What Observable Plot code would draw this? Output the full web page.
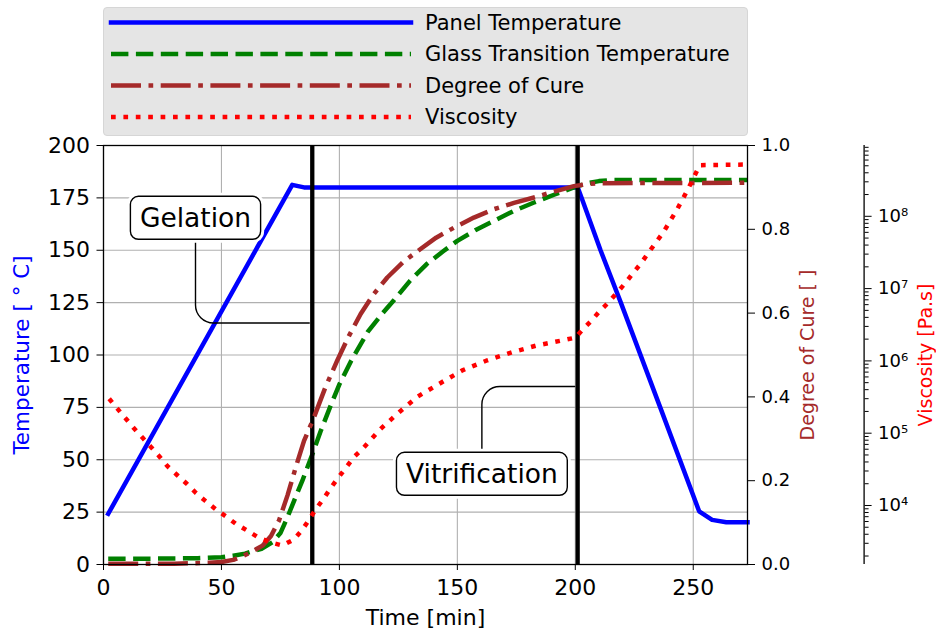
<!DOCTYPE html>
<html>
<head>
<meta charset="utf-8">
<script src="https://cdn.jsdelivr.net/npm/d3@7"></script>
<script src="https://cdn.jsdelivr.net/npm/@observablehq/plot@0.6"></script>
<style>
  body { margin: 0; background: #fff; font-family: "DejaVu Sans", sans-serif; }
  #wrap { position: relative; width: 936px; height: 633px; overflow: hidden; }
  #chart { position: absolute; left: 0; top: 130px; }
  #legend { position: absolute; left: 103px; top: 7px; width: 645px; height: 129px; box-sizing: border-box;
            background: #e5e5e5; border: 1px solid #d6d6d6; border-radius: 4px; }
</style>
</head>
<body>
<div id="wrap"><div id="chart"></div><div id="legend"></div></div>
<script>
// ---- cure cycle data ----
// panel temperature [°C] vs time [min]
const panelTime = [2, 80, 85, 201, 203, 210.7, 219.3, 236, 252.5, 258, 264, 273];
const panelTemp = [24.2, 181.2, 180, 180, 174, 150, 125, 75, 25.4, 21.3, 20.2, 20.2];

// glass transition temperature [°C]
const tgTime = [2, 20, 40, 50, 55, 60, 62, 67, 71.6, 75, 78, 81, 84.3, 88.5, 92, 96, 100, 105, 112, 118, 123, 130, 137, 144, 150, 158, 165.5, 174, 182.5, 191, 199.4, 205, 210, 215, 273];
const tgTemp = [2.7, 2.8, 3.0, 3.5, 4.2, 5.2, 5.9, 7.5, 10.6, 15, 22.6, 31, 40, 52.5, 63.5, 75, 86, 97.3, 111, 119.5, 126, 135.5, 143.4, 149.5, 154.5, 159.8, 164, 168.8, 172.8, 176.5, 180, 182, 183, 183.5, 183.5];

// degree of cure [-]
const cureTime = [2, 30, 45, 50, 55, 59, 63, 67.4, 71, 74.4, 78, 81.5, 85, 89.2, 94, 99.1, 104, 109, 114.5, 120.3, 127, 134.4, 141, 148.6, 157, 165.5, 174, 182.5, 191, 199.4, 205, 210, 273];
const cure = [0.002, 0.002, 0.004, 0.006, 0.011, 0.02, 0.031, 0.045, 0.068, 0.105, 0.165, 0.232, 0.295, 0.351, 0.422, 0.487, 0.545, 0.598, 0.645, 0.685, 0.722, 0.753, 0.78, 0.804, 0.828, 0.848, 0.863, 0.876, 0.89, 0.903, 0.908, 0.91, 0.911];

// viscosity [Pa.s]
const viscTime = [2.4, 5.8, 9.4, 12.9, 16.5, 20, 23.6, 27.1, 31.4, 35.3, 39.1, 43.3, 47.5, 51.8, 56, 60.9, 65.7, 70.6, 75.8, 80.8, 84, 87.1, 90, 93.2, 96.3, 99.4, 102.7, 106.2, 109.7, 117.5, 125.3, 133.1, 142.2, 152.1, 162.7, 173.3, 183.2, 193.8, 200.1, 203, 206.5, 210.4, 214.2, 217.8, 221.3, 224.6, 227.7, 231.2, 234.3, 237.3, 240.1, 242.9, 245.8, 248.1, 250.3, 252.8, 273];
const viscosity = [3.0e5, 2.2e5, 1.6e5, 1.17e5, 8.7e4, 6.5e4, 4.8e4, 3.5e4, 2.6e4, 2.0e4, 1.5e4, 1.15e4, 8.9e3, 7.1e3, 5.6e3, 4.5e3, 3.6e3, 3.1e3, 2.8e3, 3.4e3, 4.5e3, 6.3e3, 8.9e3, 1.23e4, 1.74e4, 2.4e4, 3.3e4, 4.7e4, 6.0e4, 1.15e5, 1.95e5, 3.2e5, 4.8e5, 7.4e5, 1.02e6, 1.32e6, 1.62e6, 1.9e6, 2.1e6, 2.7e6, 3.5e6, 4.9e6, 6.5e6, 8.9e6, 1.2e7, 1.66e7, 2.2e7, 3.2e7, 4.4e7, 6.0e7, 8.5e7, 1.2e8, 1.8e8, 2.5e8, 3.5e8, 5.1e8, 5.2e8];

// events marked with vertical lines and callouts
const eventLabels = ["Gelation", "Vitrification"];
const eventTimes = [88.5, 201];
const calloutTimes = [39, 160.4];     // where the callout text sits
const calloutTemps = [165, 42.8];
const pointerTemps = [115.3, 85];     // height at which the pointer meets the line

// axis ticks
const timeTicks = [0, 50, 100, 150, 200, 250];
const tempTicks = [0, 25, 50, 75, 100, 125, 150, 175, 200];
const cureTicks = [0, 0.2, 0.4, 0.6, 0.8, 1.0];
const viscMajorTicks = [1e4, 1e5, 1e6, 1e7, 1e8];

const seriesNames = ["Panel Temperature", "Glass Transition Temperature", "Degree of Cure", "Viscosity"];

// ---- styling ----
const timeMax = 273;
const tempDomain = [0, 200];
const colors = {"Panel Temperature": "#0000ff", "Glass Transition Temperature": "#008000", "Degree of Cure": "#a52a2a", "Viscosity": "#ff0000"};
const dashes = {"Panel Temperature": null, "Glass Transition Temperature": "17.4,7.5", "Degree of Cure": "30,7.5,4.7,7.5", "Viscosity": "4.7,7.7"};
const lineWidth = 4.5;

// twin axes share the temperature scale: cure 0..1 and log viscosity are mapped onto 0..200
const cureToTemp = c => c / 1.0 * (tempDomain[1] - tempDomain[0]) + tempDomain[0];
const logVisc = viscosity.map(Math.log10);
const [lvLo, lvHi] = d3.extent(logVisc);
const lvPad = 0.05 * (lvHi - lvLo);
const viscLin = d3.scaleLinear([lvLo - lvPad, lvHi + lvPad], tempDomain);
const viscToTemp = v => viscLin(Math.log10(v));

const viscMinorTicks = [];
for (let e = Math.floor(lvLo - lvPad); e <= Math.ceil(lvHi + lvPad); e++)
  for (let k = 2; k <= 9; k++) {
    const v = k * 10 ** e, l = Math.log10(v);
    if (l >= lvLo - lvPad && l <= lvHi + lvPad) viscMinorTicks.push(v);
  }

const sup = {"0":"⁰","1":"¹","2":"²","3":"³","4":"⁴","5":"⁵","6":"⁶","7":"⁷","8":"⁸","9":"⁹","-":"⁻"};
const powerLabel = v => "10" + String(Math.round(Math.log10(v))).split("").map(c => sup[c]).join("");

// tables for the marks
const panelRows = panelTime.map((t, i) => ({t, v: panelTemp[i]}));
const tgRows = tgTime.map((t, i) => ({t, v: tgTemp[i]}));
const cureRows = cureTime.map((t, i) => ({t, v: cureToTemp(cure[i])}));
const viscRows = viscTime.map((t, i) => ({t, v: viscToTemp(viscosity[i])}));
const events = eventLabels.map((label, i) => ({label, time: eventTimes[i], tx: calloutTimes[i], ty: calloutTemps[i], py: pointerTemps[i]}));
const pointerRows = events.flatMap(e => [
  {label: e.label, t: e.tx, v: e.ty},
  {label: e.label, t: e.tx, v: e.py},
  {label: e.label, t: e.time, v: e.py}
]);

// elbow connector with a rounded corner; the end stops a few pixels short of its target
function roundedElbow(context) {
  let pts = [];
  return {
    areaStart() {}, areaEnd() {},
    lineStart() { pts = []; },
    point(x, y) { pts.push([+x, +y]); },
    lineEnd() {
      const n = pts.length;
      if (n < 2) return;
      const [ax, ay] = pts[n - 2], [bx, by] = pts[n - 1];
      const len = Math.hypot(bx - ax, by - ay) || 1;
      const end = [bx - (bx - ax) / len * 3, by - (by - ay) / len * 3];
      context.moveTo(pts[0][0], pts[0][1]);
      for (let i = 1; i < n - 1; i++) {
        const nx = i + 1 === n - 1 ? end : pts[i + 1];
        context.arcTo(pts[i][0], pts[i][1], nx[0], nx[1], 18);
      }
      context.lineTo(end[0], end[1]);
    }
  };
}

const seriesLine = (rows, name) => Plot.line(rows, {
  x: "t", y: "v", stroke: colors[name], strokeWidth: lineWidth,
  strokeDasharray: dashes[name], strokeLinecap: dashes[name] ? "butt" : "square", strokeLinejoin: "round"
});

const gridStyle = {stroke: "#b0b0b0", strokeOpacity: 1, strokeWidth: 1.1};

const chart = Plot.plot({
  width: 936, height: 503,
  marginLeft: 103, marginRight: 189, marginTop: 15, marginBottom: 69,
  x: {domain: [0, timeMax]},
  y: {domain: tempDomain},
  style: {fontFamily: "'DejaVu Sans', sans-serif", fontSize: "21px", background: "white", overflow: "visible"},
  marks: [
    Plot.gridX({ticks: timeTicks, ...gridStyle}),
    Plot.gridY({ticks: tempTicks, ...gridStyle}),
    seriesLine(panelRows, "Panel Temperature"),
    seriesLine(tgRows, "Glass Transition Temperature"),
    Plot.ruleX(events, {x: "time", stroke: "black", strokeWidth: 4.3}),
    Plot.line(pointerRows, {x: "t", y: "v", z: "label", curve: roundedElbow, stroke: "black", strokeWidth: 1.4}),
    Plot.text(events, {x: "tx", y: "ty", text: "label", fontSize: 26.5, fill: "black", className: "callout"}),
    seriesLine(cureRows, "Degree of Cure"),
    seriesLine(viscRows, "Viscosity"),
    Plot.frame({stroke: "black", strokeWidth: 1.3}),
    // viscosity spine, offset to the right of the plot
    Plot.ruleX([timeMax], {dx: 116.6, stroke: "black", strokeWidth: 1.3}),
    Plot.axisX({ticks: timeTicks, tickSize: 6, tickPadding: 9, fontSize: 22, label: null}),
    Plot.axisY({ticks: tempTicks, tickSize: 6.5, tickPadding: 7, fontSize: 22, label: null}),
    Plot.axisY({anchor: "right", ticks: cureTicks.map(cureToTemp), tickSize: 7, tickPadding: 7, fontSize: 18, label: null,
      tickFormat: d => cureTicks[cureTicks.map(cureToTemp).indexOf(d)].toFixed(1)}),
    Plot.axisY({anchor: "right", dx: 116.6, ticks: viscMajorTicks.map(viscToTemp), tickSize: 7, tickPadding: 7, fontSize: 18, label: null,
      tickFormat: d => powerLabel(viscMajorTicks[viscMajorTicks.map(viscToTemp).indexOf(d)])}),
    Plot.axisY({anchor: "right", dx: 116.6, ticks: viscMinorTicks.map(viscToTemp), tickSize: 4, tickFormat: () => "", label: null}),
    // axis titles
    Plot.text(["Time [min]"], {frameAnchor: "bottom", dy: 60, text: d => d, fontSize: 22, fill: "black"}),
    Plot.text(["Temperature [ ° C]"], {frameAnchor: "left", dx: -81, rotate: -90, textAnchor: "middle", text: d => d, fontSize: 21.5, fill: colors["Panel Temperature"]}),
    Plot.text(["Degree of Cure [ ]"], {frameAnchor: "right", dx: 60, rotate: -90, textAnchor: "middle", text: d => d, fontSize: 19, fill: colors["Degree of Cure"]}),
    Plot.text(["Viscosity [Pa.s]"], {frameAnchor: "right", dx: 178, rotate: -90, textAnchor: "middle", text: d => d, fontSize: 19, fill: colors["Viscosity"]})
  ]
});
document.getElementById("chart").append(chart);

// rounded white boxes behind the callout texts
const NS = "http://www.w3.org/2000/svg";
chart.querySelectorAll("g.callout text").forEach(t => {
  const bb = t.getBBox();
  const tr = t.getAttribute("transform");
  const padX = 9.5, h = 43, cy = bb.y + bb.height / 2;
  const halo = document.createElementNS(NS, "rect");
  const box = document.createElementNS(NS, "rect");
  for (const [r, grow] of [[halo, 3.5], [box, 0]]) {
    r.setAttribute("x", bb.x - padX - grow);
    r.setAttribute("y", cy - h / 2 - grow);
    r.setAttribute("width", bb.width + 2 * (padX + grow));
    r.setAttribute("height", h + 2 * grow);
    r.setAttribute("rx", 8 + grow);
    if (tr) r.setAttribute("transform", tr);
    r.setAttribute("fill", "white");
    r.setAttribute("stroke", r === box ? "black" : "none");
    r.setAttribute("stroke-width", 1.4);
    t.parentNode.insertBefore(r, t);
  }
});

// legend
const leg = d3.select("#legend").append("svg").attr("width", 643).attr("height", 127)
  .style("position", "absolute").style("left", 0).style("top", 0);
seriesNames.forEach((name, i) => {
  const y = 14.5 + i * 31.5;
  leg.append("line").attr("x1", 7).attr("x2", 307).attr("y1", y).attr("y2", y)
    .attr("stroke", colors[name]).attr("stroke-width", lineWidth)
    .attr("stroke-dasharray", dashes[name]).attr("stroke-linecap", dashes[name] ? "butt" : "square");
  leg.append("text").attr("x", 321).attr("y", y).attr("dy", "0.35em")
    .attr("font-family", "'DejaVu Sans', sans-serif").attr("font-size", 21).attr("fill", "black").text(name);
});
</script>
</body>
</html>
